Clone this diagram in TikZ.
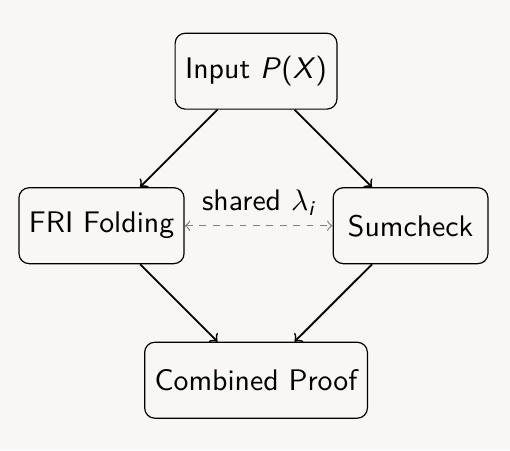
\documentclass[tikz,border=0pt]{standalone}
\usepackage{amsmath}
\renewcommand{\familydefault}{\sfdefault}
\definecolor{bg}{RGB}{248,247,245}

\begin{document}
\begin{tikzpicture}[node distance={73.4pt}, line width=0.6pt, main/.style = {draw, line width=0.4pt, rectangle, rounded corners=3.4pt, minimum height=25.5pt}]
    \useasboundingbox[fill=bg] (-86pt,-127.3pt) rectangle (85.3pt,23.9pt);
    \node[main] (1) {Input \textit{P}(\textit{X})};
    \node[main] (2) [below left of=1] {FRI Folding};
    \node[main] (3) [below right of=1, minimum width=52pt] {Sumcheck};
    \node[main] (4) [below of=1, node distance={103.8pt}] {Combined Proof};
    \draw[->] (1) -- (2);
    \draw[->] (1) -- (3);
    \draw[->] (2) -- (4);
    \draw[->] (3) -- (4);
    \draw[<->, line width=0.4pt, gray, dash pattern=on 2.25pt off 2.25pt] (2) -- node[above, black] {shared $\lambda_{\textit{i}}$} (3);
\end{tikzpicture}
\end{document}
